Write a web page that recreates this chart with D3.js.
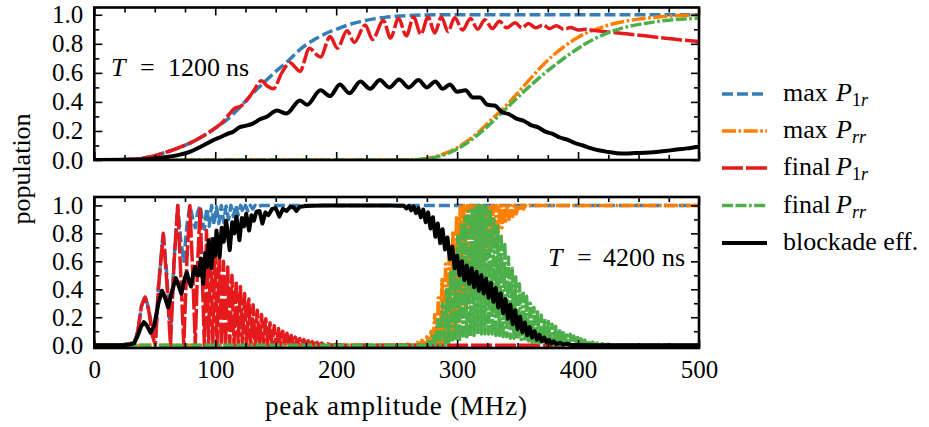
<!DOCTYPE html>
<html>
<head>
<meta charset="utf-8">
<script src="https://cdn.jsdelivr.net/npm/d3@7"></script>
<style>
  body { margin: 0; background: #fff; }
  svg { display: block; }
  text { font-family: "Times New Roman"; fill: #000; }
</style>
</head>
<body>
<svg id="chart" width="929" height="427"></svg>
<script>
// ---------------- DATA ----------------
const xMajorTicks = [0, 100, 200, 300, 400, 500];
const xMinorTicks = [25, 50, 75, 125, 150, 175, 225, 250, 275, 325, 350, 375, 425, 450, 475];
const yMajorTicks = [0, 0.2, 0.4, 0.6, 0.8, 1.0];
const yMinorTicks = [0.1, 0.3, 0.5, 0.7, 0.9];

const seriesNames = ["max P1r", "max Prr", "final P1r", "final Prr", "blockade eff."];
const legendPrefix = ["max", "max", "final", "final", "blockade eff."];
const legendSub = ["1r", "rr", "1r", "rr", null];
const colors = ["#377eb8", "#ff7f00", "#e41a1c", "#4daf4a", "#000000"];
const panelLabels = ["1200", "4200"];

// Top panel, T = 1200 ns
const topMaxP1r = [[0,0],[20,0.002],[30,0.005],[40,0.012],[50,0.03],[60,0.055],[70,0.085],[80,0.12],[90,0.165],[100,0.22],[110,0.28],[120,0.36],[130,0.45],[140,0.53],[150,0.61],[160,0.68],[170,0.76],[180,0.82],[190,0.865],[200,0.9],[210,0.93],[220,0.953],[230,0.97],[240,0.982],[250,0.99],[260,0.995],[275,0.999],[300,1.0],[500,1.0]];
const topMaxPrr = [[0,0],[250,0],[262,0.002],[272,0.008],[280,0.02],[290,0.045],[300,0.085],[310,0.14],[320,0.21],[330,0.29],[340,0.37],[350,0.46],[360,0.555],[370,0.645],[380,0.725],[390,0.79],[400,0.845],[410,0.885],[420,0.915],[430,0.94],[440,0.957],[450,0.97],[460,0.98],[470,0.988],[485,0.995],[500,1.0]];
const topFinalP1r = [[0,0],[20,0.002],[30,0.005],[40,0.012],[50,0.03],[60,0.055],[70,0.085],[80,0.12],[90,0.165],[100,0.22],[106,0.26],[111,0.31],[116,0.355],[121,0.37],[126,0.41],[132,0.48],[138,0.545],[143,0.51],[148,0.49],[155,0.6],[162,0.67],[166,0.64],[170,0.61],[178,0.77],[183,0.73],[187,0.71],[195,0.85],[201,0.77],[209,0.89],[215,0.81],[224,0.93],[230,0.83],[239,0.96],[245,0.84],[251.5,0.975],[258,0.855],[264,0.985],[270,0.865],[276,0.985],[281.5,0.875],[287,0.985],[292.5,0.885],[298,0.98],[304.5,0.895],[311,0.975],[317,0.9],[323,0.965],[329,0.905],[335,0.955],[341,0.91],[348,0.945],[353.5,0.91],[359,0.94],[365,0.91],[371,0.93],[376.5,0.905],[382,0.925],[388,0.9],[394,0.912],[400,0.895],[406,0.9],[415,0.89],[425,0.882],[435,0.873],[445,0.864],[455,0.855],[465,0.845],[475,0.836],[485,0.827],[500,0.815]];
const topFinalPrr = [[0,0],[255,0],[265,0.002],[275,0.008],[285,0.025],[295,0.055],[305,0.1],[315,0.16],[325,0.23],[335,0.31],[345,0.39],[355,0.47],[365,0.545],[375,0.615],[385,0.68],[395,0.74],[405,0.795],[415,0.84],[425,0.877],[435,0.905],[445,0.925],[455,0.94],[465,0.953],[475,0.963],[488,0.971],[500,0.977]];
const topBlockade = [[0,0],[30,0.001],[40,0.004],[50,0.01],[60,0.02],[70,0.035],[80,0.06],[90,0.1],[98,0.135],[105,0.16],[110,0.18],[115,0.195],[120,0.225],[125,0.235],[131,0.25],[137,0.28],[143,0.3],[151,0.34],[159,0.32],[170,0.41],[176,0.38],[187,0.48],[195,0.44],[203,0.52],[211,0.46],[220,0.54],[228,0.49],[236,0.55],[244,0.5],[252,0.555],[260,0.5],[268,0.55],[275,0.5],[282,0.54],[288,0.49],[294,0.52],[300,0.47],[307,0.48],[313,0.43],[319,0.43],[325,0.38],[331,0.375],[337,0.33],[343,0.315],[349,0.285],[355,0.27],[361,0.24],[367,0.225],[373,0.195],[379,0.18],[385,0.155],[391,0.14],[398,0.115],[404,0.1],[411,0.08],[418,0.065],[425,0.055],[432,0.047],[440,0.045],[447,0.048],[455,0.05],[462,0.053],[470,0.06],[480,0.07],[490,0.08],[500,0.092]];

// Bottom panel, T = 4200 ns
const botMaxP1r = [[0,0],[20,0.002],[28,0.006],[33,0.02],[36,0.1],[39,0.28],[42,0.35],[45,0.26],[48,0.1],[50.5,0.04],[53,0.42],[57,0.8],[60,0.5],[63,0.08],[66,0.62],[69,1.0],[71.5,0.75],[74,0.6],[76.5,0.85],[79,1.0],[81.5,0.9],[83.5,0.84],[85.5,0.95],[87.5,1.0],[89.5,0.88],[91,0.83],[93,0.98],[95,0.85],[97,1.0],[99,0.86],[101,0.99],[103,0.87],[105,1.0],[107,0.88],[109,0.995],[111,0.9],[113,1.0],[115,0.92],[117,1.0],[119,0.93],[121,1.0],[123,0.95],[125,1.0],[127,0.96],[129,1.0],[131,0.975],[133,1.0],[135,0.985],[138,1.0],[500,1.0]];
const botMaxPrr = [[0,0],[250,0],[255,0.004],[257,0],[259,0.008],[261,0],[263,0.012],[265,0],[267,0.02],[269,0],[271,0.035],[273,0],[275,0.06],[277,0],[278.5,0.1],[280,0],[281.5,0.22],[283,0],[284.5,0.34],[286,0],[287.5,0.47],[289,0],[290.5,0.58],[292,0.02],[293.5,0.7],[295,0.05],[296.5,0.82],[298,0.1],[299.5,0.93],[301,0.15],[302.5,0.99],[304,0.2],[305.5,1.0],[307,0.25],[308.5,1.0],[310,0.3],[311.5,1.0],[313,0.38],[314.5,1.0],[316,0.45],[317.5,1.0],[319,0.52],[320.5,1.0],[322,0.6],[323.5,1.0],[325,0.67],[326.5,1.0],[328,0.73],[329.5,1.0],[331,0.78],[332.5,1.0],[334,0.81],[335.5,1.0],[337,0.84],[338.5,1.0],[340,0.87],[341.5,1.0],[343,0.9],[344.5,1.0],[346,0.92],[347.5,1.0],[349,0.94],[350.5,1.0],[352,0.96],[353.5,1.0],[355,0.975],[356.5,1.0],[358,0.99],[360,1.0],[500,1.0]];
const botFinalP1r = [[0,0],[20,0.002],[28,0.006],[33,0.02],[36,0.1],[39,0.28],[42,0.345],[45,0.25],[48,0.07],[50.5,0.0],[53,0.4],[57,0.8],[60,0.45],[63,0.0],[66,0.6],[69,1.0],[71.5,0.5],[74,0.0],[76.5,0.6],[79,1.0],[81.5,0.5],[83.5,0.0],[85.5,0.6],[87.5,0.97],[89.5,0.45],[91,0.0],[92.8,0.82],[94.5,0.0],[96.3,0.76],[98,0.0],[99.8,0.7],[101.5,0.0],[103.3,0.66],[105,0.0],[106.8,0.6],[108.5,0.0],[110.3,0.56],[112,0.0],[113.8,0.5],[115.5,0.0],[117.3,0.46],[119,0.0],[120.8,0.42],[122.5,0.0],[124.3,0.37],[126,0.0],[127.8,0.33],[129.5,0.0],[131.3,0.29],[133,0.0],[134.8,0.25],[136.5,0.0],[138.3,0.22],[140,0.0],[141.8,0.19],[143.5,0.0],[145.3,0.16],[147,0.0],[148.8,0.14],[150.5,0.0],[152.3,0.12],[154,0.0],[155.8,0.1],[157.5,0.0],[159.3,0.085],[161,0.0],[162.8,0.07],[164.5,0.0],[166.3,0.058],[168,0.0],[169.8,0.048],[171.5,0.0],[173.3,0.04],[175,0.0],[176.8,0.032],[178.5,0.0],[180.3,0.025],[182,0.0],[184,0.02],[186,0.0],[188,0.015],[190,0.0],[193,0.01],[196,0.0],[200,0.005],[205,0],[500,0]];
const botFinalPrr = [[0,0],[270,0],[274,0.0],[276,0.03],[278,0.0],[280,0.08],[282,0.0],[284,0.18],[286,0.0],[288,0.3],[290,0.0],[291.5,0.4],[293,0.0],[294.5,0.52],[296,0.02],[297.5,0.65],[299,0.03],[300.5,0.78],[302,0.04],[303.5,0.86],[305,0.05],[306.5,0.92],[308,0.05],[309.5,0.96],[311,0.06],[312.5,0.98],[314,0.07],[315.5,1.0],[317,0.08],[318.5,1.0],[320,0.08],[321.5,1.0],[323,0.08],[324.5,0.99],[326,0.08],[327.5,0.96],[329,0.08],[330.5,0.9],[332,0.07],[333.5,0.85],[335,0.07],[336.5,0.78],[338,0.06],[339.5,0.72],[341,0.06],[342.5,0.63],[344,0.05],[345.5,0.55],[347,0.05],[348.5,0.49],[350,0.04],[351.5,0.44],[353,0.04],[354.5,0.39],[356,0.03],[357.5,0.35],[359,0.03],[360.5,0.3],[362,0.02],[363.5,0.27],[365,0.02],[366.5,0.24],[368,0.015],[369.5,0.215],[371,0.01],[372.5,0.19],[374,0.01],[375.5,0.17],[377,0.005],[378.5,0.15],[380,0.0],[381.5,0.135],[383,0.0],[384.5,0.12],[386,0],[387.5,0.105],[389,0],[390.5,0.09],[392,0],[393.5,0.078],[395,0],[396.5,0.066],[398,0],[399.5,0.055],[401,0],[402.5,0.045],[404,0],[405.5,0.037],[407,0],[408.5,0.03],[410,0],[412,0.022],[414,0],[416,0.016],[418,0],[420,0.011],[422,0],[425,0.007],[428,0],[432,0.004],[436,0],[445,0.001],[455,0],[500,0]];
const botBlockade = [[0,0],[25,0.002],[30,0.006],[33,0.015],[36,0.07],[38.5,0.13],[41,0.165],[43.5,0.14],[46.5,0.09],[49.5,0.14],[53,0.3],[56,0.39],[58.5,0.34],[61,0.27],[64,0.38],[67.5,0.48],[70,0.42],[72,0.37],[74.5,0.47],[76.5,0.52],[78.5,0.45],[80,0.42],[82,0.52],[83.5,0.56],[85,0.5],[86.5,0.5],[88,0.62],[90,0.44],[91.7,0.66],[93.3,0.56],[94.5,0.75],[96.8,0.55],[98.3,0.76],[99.8,0.64],[101,0.82],[103.6,0.63],[105.3,0.84],[107,0.74],[109,0.89],[112,0.68],[114,0.88],[115.8,0.8],[117.5,0.92],[120,0.75],[122,0.91],[123.8,0.85],[125.6,0.94],[128,0.82],[130,0.93],[132,0.89],[134,0.955],[136.6,0.96],[139,0.87],[141.5,0.95],[144,0.93],[147,0.975],[150,0.98],[153,0.92],[156,0.975],[159,0.96],[162,0.99],[165,0.985],[167,0.96],[170,0.99],[175,0.995],[180,0.997],[190,0.999],[200,1.0],[245,1.0],[252,0.998],[256,0.998],[258,0.978],[260,0.997],[262,0.965],[264,0.993],[266,0.945],[268,0.98],[270,0.915],[272,0.97],[274,0.88],[276,0.95],[278,0.835],[280,0.915],[282,0.775],[284,0.87],[286,0.73],[288,0.83],[290,0.685],[292,0.77],[294,0.615],[296,0.705],[298,0.55],[300,0.64],[302,0.5],[304,0.6],[306,0.465],[308,0.57],[310,0.44],[312,0.55],[314,0.415],[316,0.525],[318,0.39],[320,0.5],[322,0.37],[324,0.475],[326,0.34],[328,0.445],[330,0.31],[332,0.41],[334,0.27],[336,0.37],[338,0.23],[340,0.33],[342,0.19],[344,0.29],[346,0.15],[348,0.25],[350,0.115],[352,0.204],[354,0.093],[356,0.162],[358,0.071],[360,0.129],[362,0.054],[364,0.1],[366,0.039],[368,0.075],[370,0.027],[372,0.055],[374,0.019],[376,0.039],[378,0.013],[380,0.027],[382,0.008],[385,0.017],[388,0.003],[391,0.01],[395,0.001],[400,0.002],[410,0],[500,0]];

// ---------------- DRAW ----------------
const FONT = "Times New Roman";
const svg = d3.select("#chart");
const x = d3.scaleLinear().domain([0, 500]).range([94.3, 699]);
const yTop = d3.scaleLinear().domain([0, 1.05]).range([160, 7.5]);
const yBot = d3.scaleLinear().domain([-0.02, 1.06]).range([348, 197]);

const styles = [
  { color: colors[0], dash: "11,4", width: 3.5 },
  { color: colors[1], dash: "14,2.5,2.7,2.5", width: 3.5 },
  { color: colors[2], dash: "21,3", width: 3.5 },
  { color: colors[3], dash: "11,2.5,11,2.5,2.7,2.5", width: 3.5 },
  { color: colors[4], dash: null, width: 4 }
];

const panels = [
  { y: yTop, data: [topMaxP1r, topMaxPrr, topFinalP1r, topFinalPrr, topBlockade], curve: d3.curveMonotoneX, labels: false, id: "top" },
  { y: yBot, data: [botMaxP1r, botMaxPrr, botFinalP1r, botFinalPrr, botBlockade], curve: d3.curveLinear, labels: true, id: "bot" }
];

const defs = svg.append("defs");

panels.forEach(p => {
  const [y0, y1] = p.y.range();
  const [x0, x1] = x.range();
  defs.append("clipPath").attr("id", "clip-" + p.id)
    .append("rect").attr("x", x0).attr("y", y1).attr("width", x1 - x0).attr("height", y0 - y1);

  const g = svg.append("g");
  const lines = g.append("g").attr("clip-path", `url(#clip-${p.id})`);
  p.data.forEach((d, i) => {
    const line = d3.line().x(v => x(v[0])).y(v => p.y(v[1])).curve(p.curve);
    const s = styles[i];
    lines.append("path").datum(d)
      .attr("d", line)
      .attr("fill", "none")
      .attr("stroke", s.color)
      .attr("stroke-width", s.width)
      .attr("stroke-linejoin", "round")
      .attr("stroke-dasharray", s.dash);
  });

  const fmtY = d3.format(".1f");
  g.append("g").attr("transform", `translate(0,${y0})`).call(d3.axisBottom(x).tickValues(xMajorTicks).tickSize(-8).tickPadding(12).tickFormat(p.labels ? d3.format("d") : () => ""));
  g.append("g").attr("transform", `translate(0,${y0})`).call(d3.axisBottom(x).tickValues(xMinorTicks).tickSize(-5).tickFormat(() => ""));
  g.append("g").attr("transform", `translate(0,${y1})`).call(d3.axisTop(x).tickValues(xMajorTicks).tickSize(-8).tickFormat(() => ""));
  g.append("g").attr("transform", `translate(0,${y1})`).call(d3.axisTop(x).tickValues(xMinorTicks).tickSize(-5).tickFormat(() => ""));
  g.append("g").attr("transform", `translate(${x0},0)`).call(d3.axisLeft(p.y).tickValues(yMajorTicks).tickSize(-8).tickPadding(11).tickFormat(fmtY));
  g.append("g").attr("transform", `translate(${x0},0)`).call(d3.axisLeft(p.y).tickValues(yMinorTicks).tickSize(-5).tickFormat(() => ""));
  g.append("g").attr("transform", `translate(${x1},0)`).call(d3.axisRight(p.y).tickValues(yMajorTicks).tickSize(-8).tickFormat(() => ""));
  g.append("g").attr("transform", `translate(${x1},0)`).call(d3.axisRight(p.y).tickValues(yMinorTicks).tickSize(-5).tickFormat(() => ""));

  g.selectAll(".domain").remove();
  g.selectAll("g").attr("font-family", null).attr("font-size", null);
  g.selectAll(".tick line").attr("stroke", "#000").attr("stroke-width", 1.6);
  g.selectAll(".tick text").style("font-size", "25px").style("font-family", FONT).attr("fill", "#000");

  g.append("rect").attr("x", x0).attr("y", y1).attr("width", x1 - x0).attr("height", y0 - y1)
    .attr("fill", "none").attr("stroke", "#000").attr("stroke-width", 2.6);
});

// Panel annotations
function panelNote(xs, baseline, value) {
  const t = svg.append("text").attr("y", baseline).style("font-size", "26px").style("font-family", FONT);
  t.append("tspan").attr("x", xs[0]).attr("font-style", "italic").text("T");
  t.append("tspan").attr("x", xs[1]).text("=");
  t.append("tspan").attr("x", xs[2]).text(value);
  t.append("tspan").attr("x", xs[3]).text("ns");
}
panelNote([111, 140, 168, 226], 76, panelLabels[0]);
panelNote([548, 577, 603, 662], 266, panelLabels[1]);

// Axis labels
svg.append("text").attr("x", 396).attr("y", 415).attr("text-anchor", "middle")
  .style("font-size", "27px").style("font-family", FONT)
  .attr("textLength", 262).attr("lengthAdjust", "spacing")
  .text("peak amplitude (MHz)");
svg.append("text").attr("transform", "translate(30,169) rotate(-90)").attr("text-anchor", "middle")
  .style("font-size", "26px").style("font-family", FONT)
  .text("population");

// Legend
const legendY = [94, 131, 168, 205.5, 243];
const legend = svg.append("g");
seriesNames.forEach((name, i) => {
  const s = styles[i];
  legend.append("line").attr("x1", 722).attr("x2", 767).attr("y1", legendY[i]).attr("y2", legendY[i])
    .attr("stroke", s.color).attr("stroke-width", s.width).attr("stroke-dasharray", s.dash);
  const t = legend.append("text").attr("x", 783).attr("y", legendY[i] + 7).style("font-size", "26px").style("font-family", FONT);
  t.append("tspan").text(legendPrefix[i]);
  if (legendSub[i]) {
    t.append("tspan").attr("x", 836).attr("font-style", "italic").text("P");
    const sub = legendSub[i];
    t.append("tspan").attr("dy", 5).style("font-size", "18px")
      .attr("font-style", sub[0] === "1" ? "normal" : "italic").text(sub[0]);
    t.append("tspan").style("font-size", "18px").attr("font-style", "italic").text(sub[1]);
  }
});
</script>
</body>
</html>
